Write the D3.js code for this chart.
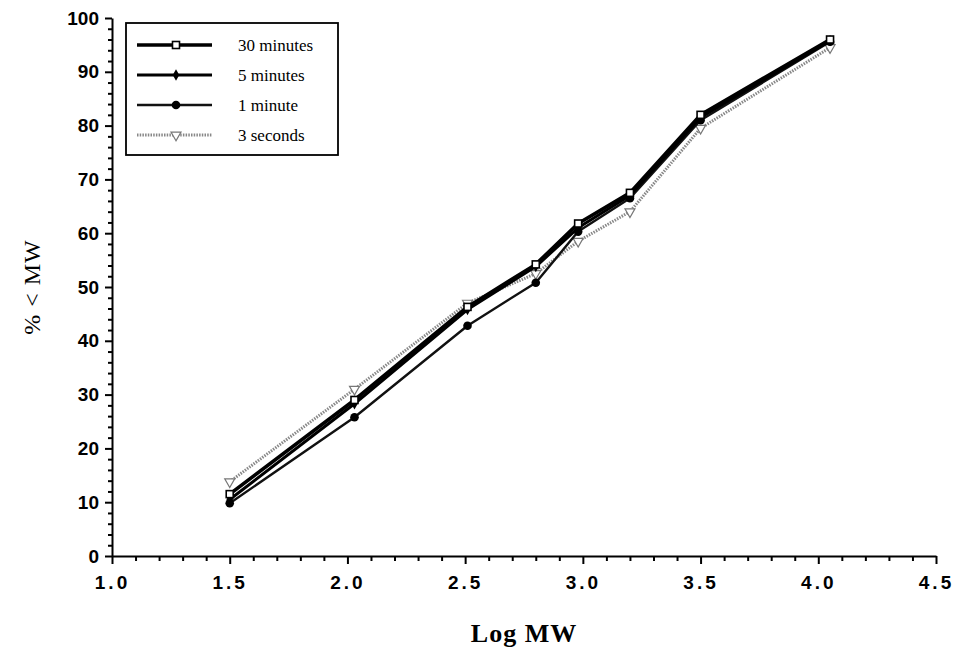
<!DOCTYPE html>
<html lang="en">
<head>
  <meta charset="UTF-8" />
  <title>% &lt; MW vs Log MW</title>
  <script src="https://d3js.org/d3.v7.min.js"></script>
  <style>
    body { margin: 0; background: #fff; }
    svg { display: block; font-family: "Liberation Serif", "DejaVu Serif", serif; }
    .axis path, .axis line { stroke: #000; stroke-width: 2; }
    .axis text { font-size: 19px; font-weight: bold; fill: #000; }
    .legend text { font-size: 17px; fill: #000; }
  </style>
</head>
<body>
  <div id="chart"></div>
  <script>
    // log MW of the fractions
    const logMW = [1.50, 2.03, 2.51, 2.80, 2.98, 3.20, 3.50, 4.05];

    // % < MW for each extraction time
    const min30 = [11.5, 29.0, 46.3, 54.2, 61.8, 67.5, 82.0, 96.0];
    const min5  = [10.5, 28.3, 45.8, 53.8, 61.0, 67.0, 81.5, 95.8];
    const min1  = [ 9.8, 25.8, 42.8, 50.8, 60.3, 66.5, 81.0, 95.6];
    const sec3  = [13.8, 31.0, 47.0, 52.5, 58.5, 64.0, 79.5, 94.5];

    const seriesNames = ['30 minutes', '5 minutes', '1 minute', '3 seconds'];
    const seriesValues = [min30, min5, min1, sec3];

    const xTicks = [1.0, 1.5, 2.0, 2.5, 3.0, 3.5, 4.0, 4.5];
    const yTicks = [0, 10, 20, 30, 40, 50, 60, 70, 80, 90, 100];

    const styles = {
      '30 minutes': { stroke: '#000', width: 3.6, dash: null, marker: 'square' },
      '5 minutes':  { stroke: '#000', width: 3, dash: null, marker: 'diamond' },
      '1 minute':   { stroke: '#111', width: 2.4, dash: null, marker: 'circle' },
      '3 seconds':  { stroke: '#888', width: 3, dash: '1.5,1.2', marker: 'triangle' }
    };

    const W = 960, H = 657;
    const svg = d3.select('#chart').append('svg').attr('width', W).attr('height', H);

    const x = d3.scaleLinear().domain([1, 4.5]).range([112, 936]);
    const y = d3.scaleLinear().domain([0, 100]).range([556, 18]);

    // minor ticks
    const xMinor = d3.range(10, 46).map(d => d / 10).filter(d => Math.round(d * 10) % 5 !== 0);
    const yMinor = d3.range(0, 101, 2).filter(d => d % 10 !== 0);

    svg.append('g').attr('class', 'axis')
      .attr('transform', `translate(0,${y(0)})`)
      .call(d3.axisBottom(x).tickValues(xMinor).tickSize(5).tickFormat(''))
      .call(g => g.select('.domain').remove());

    svg.append('g').attr('class', 'axis')
      .attr('transform', `translate(0,${y(0)})`)
      .call(d3.axisBottom(x).tickValues(xTicks).tickSize(8).tickSizeOuter(0).tickPadding(8)
        .tickFormat(d3.format('.1f')))
      .call(g => g.selectAll('text').attr('letter-spacing', '3px').attr('dy', '0.9em'));

    svg.append('g').attr('class', 'axis')
      .attr('transform', `translate(${x(1)},0)`)
      .call(d3.axisLeft(y).tickValues(yMinor).tickSize(4).tickFormat(''))
      .call(g => g.select('.domain').remove());

    svg.append('g').attr('class', 'axis')
      .attr('transform', `translate(${x(1)},0)`)
      .call(d3.axisLeft(y).tickValues(yTicks).tickSize(7).tickSizeOuter(0).tickPadding(6));

    // axis titles
    svg.append('text')
      .attr('x', (x(1) + x(4.5)) / 2).attr('y', 642)
      .attr('text-anchor', 'middle')
      .attr('font-size', 26).attr('font-weight', 'bold')
      .attr('letter-spacing', '1px')
      .text('Log MW');

    svg.append('text')
      .attr('transform', `translate(40,${y(50)}) rotate(-90)`)
      .attr('text-anchor', 'middle')
      .attr('font-size', 24)
      .attr('letter-spacing', '1px')
      .text('% < MW');

    function drawMarker(g, type, size) {
      if (type === 'square') {
        g.append('rect').attr('x', -size).attr('y', -size).attr('width', size * 2).attr('height', size * 2)
          .attr('fill', '#fff').attr('stroke', '#000').attr('stroke-width', 1.6);
      } else if (type === 'diamond') {
        g.append('path').attr('d', d3.symbol(d3.symbolDiamond, size * size * 3)())
          .attr('fill', '#000');
      } else if (type === 'circle') {
        g.append('circle').attr('r', size + 0.8).attr('fill', '#000');
      } else {
        g.append('path').attr('d', d3.symbol(d3.symbolTriangle, size * size * 3.5)())
          .attr('transform', 'rotate(180)')
          .attr('fill', '#fff').attr('stroke', '#777').attr('stroke-width', 1.2);
      }
    }

    const line = d3.line().x(d => x(d[0])).y(d => y(d[1]));

    // draw bottom series first so the heavy lines lie on top
    const order = [3, 2, 1, 0];
    order.forEach(i => {
      const name = seriesNames[i];
      const st = styles[name];
      const pts = logMW.map((v, j) => [v, seriesValues[i][j]]);
      svg.append('path')
        .datum(pts)
        .attr('fill', 'none')
        .attr('stroke', st.stroke)
        .attr('stroke-width', st.width)
        .attr('stroke-dasharray', st.dash)
        .attr('stroke-linejoin', 'round')
        .attr('d', line);
      svg.selectAll(null)
        .data(pts)
        .join('g')
        .attr('transform', d => `translate(${x(d[0])},${y(d[1])})`)
        .each(function () { drawMarker(d3.select(this), st.marker, 3.5); });
    });

    // legend
    const legend = svg.append('g').attr('class', 'legend');
    legend.append('rect')
      .attr('x', 126).attr('y', 23).attr('width', 212).attr('height', 132)
      .attr('fill', '#fff').attr('stroke', '#000').attr('stroke-width', 1.8);

    seriesNames.forEach((name, i) => {
      const st = styles[name];
      const ly = 45 + i * 30;
      legend.append('line')
        .attr('x1', 137).attr('x2', 212).attr('y1', ly).attr('y2', ly)
        .attr('stroke', st.stroke).attr('stroke-width', st.width)
        .attr('stroke-dasharray', st.dash);
      drawMarker(legend.append('g').attr('transform', `translate(176,${ly})`), st.marker, 3.5);
      legend.append('text')
        .attr('x', 238).attr('y', ly).attr('dy', '0.35em')
        .text(name);
    });
  </script>
</body>
</html>
